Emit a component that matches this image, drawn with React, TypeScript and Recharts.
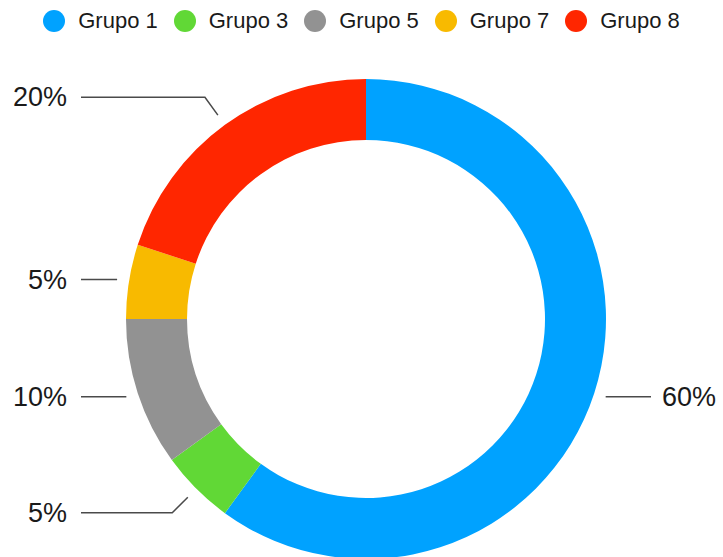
import React from "react";
import { PieChart, Pie, Cell, Legend } from "recharts";

const groupNames = ["Grupo 1", "Grupo 3", "Grupo 5", "Grupo 7", "Grupo 8"];
const groupValues = [60, 5, 10, 5, 20];
const groupColors = ["#00A2FF", "#61D836", "#929292", "#F8BA00", "#FF2600"];

const data = groupNames.map((name, i) => ({ name, value: groupValues[i] }));

const FONT = '"Liberation Sans", Arial, Helvetica, sans-serif';
const RAD = Math.PI / 180;
const LEGEND_H = 42;

const renderLabel = (props: any) => {
  const { cx, cy, midAngle, outerRadius, percent, index } = props;
  const cos = Math.cos(-midAngle * RAD);
  const sin = Math.sin(-midAngle * RAD);
  const r1 = outerRadius + 12;
  const sx = cx + r1 * cos;
  const sy = cy + r1 * sin;
  let ex = sx;
  let ey = sy;
  if (Math.abs(sin) > 0.5) {
    const r2 = outerRadius + 34;
    ex = cx + r2 * cos;
    ey = cy + r2 * sin;
  }
  const right = cos >= 0;
  const lx = cx + (right ? 1 : -1) * (outerRadius + 45);
  const tx = lx + (right ? 11 : -14);
  return (
    <g key={`lbl-${index}`}>
      <polyline
        points={`${sx},${sy} ${ex},${ey} ${lx},${ey}`}
        fill="none"
        stroke="#4a4a4a"
        strokeWidth={1.5}
      />
      <text
        x={tx}
        y={ey}
        textAnchor={right ? "start" : "end"}
        dominantBaseline="central"
        fontSize={27}
        fontFamily={FONT}
        fill="#1a1a1a"
      >
        {`${Math.round(percent * 100)}%`}
      </text>
    </g>
  );
};

const renderLegend = (props: any) => {
  const { payload } = props;
  return (
    <div
      style={{
        display: "flex",
        justifyContent: "center",
        alignItems: "center",
        fontFamily: FONT,
        fontSize: 22,
        color: "#1a1a1a",
        height: LEGEND_H,
      }}
    >
      {(payload || []).map((entry: any, i: number) => (
        <div
          key={`leg-${i}`}
          style={{
            display: "flex",
            alignItems: "center",
            marginRight: i < payload.length - 1 ? 16 : 0,
          }}
        >
          <svg width={22} height={22} style={{ marginRight: 13 }}>
            <circle cx={11} cy={11} r={11} fill={entry.color} />
          </svg>
          <span>{entry.value}</span>
        </div>
      ))}
    </div>
  );
};

export default function App() {
  return (
    <div style={{ position: "absolute", left: 0, top: 0, width: 723, height: 557, background: "#fff" }}>
      <PieChart width={723} height={557} margin={{ top: 0, right: 0, bottom: 0, left: 0 }}>
        <Legend
          verticalAlign="top"
          align="center"
          height={LEGEND_H}
          content={renderLegend}
          wrapperStyle={{ top: 0, left: 0, width: 723 }}
        />
        <Pie
          data={data}
          dataKey="value"
          nameKey="name"
          cx={366}
          cy={319 - LEGEND_H}
          innerRadius={179}
          outerRadius={240}
          startAngle={90}
          endAngle={-270}
          stroke="none"
          label={renderLabel}
          labelLine={false}
          isAnimationActive={false}
        >
          {data.map((d, i) => (
            <Cell key={d.name} fill={groupColors[i]} />
          ))}
        </Pie>
      </PieChart>
    </div>
  );
}
